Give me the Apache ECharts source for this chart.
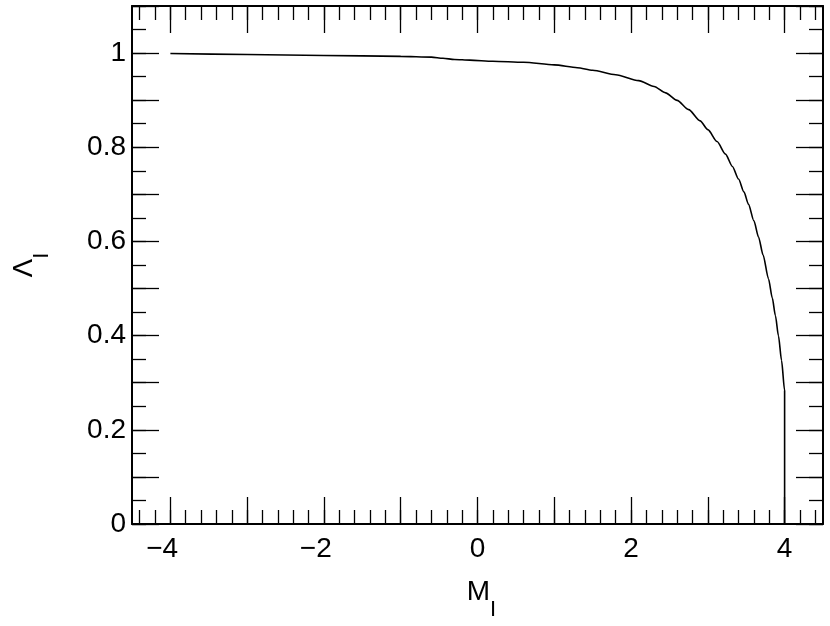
<!DOCTYPE html>
<html>
<head>
<meta charset="utf-8">
<script src="https://cdn.jsdelivr.net/npm/echarts@6/dist/echarts.min.js"></script>
<style>
  html, body { margin: 0; padding: 0; background: #fff; }
  #chart { width: 830px; height: 626px; }
</style>
</head>
<body>
<div id="chart"></div>
<script>
// curve M_I -> Lambda_I
const mValues = [-4.0, -3.0, -2.0, -1.0, -0.6, -0.45, -0.3, -0.1, 0.2, 0.6, 1.0, 1.3, 1.5, 1.8, 2.1, 2.3, 2.45, 2.6, 2.75, 2.9, 3.0, 3.12, 3.23, 3.32, 3.4, 3.47, 3.53, 3.6, 3.66, 3.72, 3.79, 3.84, 3.88, 3.92, 3.96, 4.0, 4.0];
const lambdaValues = [0.999, 0.997, 0.995, 0.993, 0.9915, 0.989, 0.9865, 0.985, 0.9827, 0.9805, 0.975, 0.969, 0.9635, 0.954, 0.9415, 0.929, 0.9155, 0.8995, 0.88, 0.856, 0.8375, 0.8123, 0.7854, 0.7593, 0.7325, 0.7052, 0.6788, 0.6438, 0.6096, 0.5712, 0.5208, 0.4798, 0.4426, 0.3994, 0.3474, 0.2834, 0];

// tick positions and labels
const xLabels = [-4, -2, 0, 2, 4];
const xMajor = [-4, -3, -2, -1, 0, 1, 2, 3, 4];
const yLabels = [0, 0.2, 0.4, 0.6, 0.8, 1];
const yMajor = [0, 0.1, 0.2, 0.3, 0.4, 0.5, 0.6, 0.7, 0.8, 0.9, 1.0, 1.1];

function steps(from, to, step) {
    const out = [];
    for (let v = from; v <= to + 1e-9; v += step) out.push(Math.round(v * 1000) / 1000);
    return out;
}
const xMinor = steps(-4.4, 4.4, 0.2);
const yMinor = steps(0, 1.1, 0.05);

const FONT = 'Liberation Sans';
const LONG = 27, SHORT = 14;

const chart = echarts.init(document.getElementById('chart'));

function tickAxis(position, values, len, withLine) {
    return {
        type: 'value', position: position,
        axisLine: { show: withLine, onZero: false, lineStyle: { color: '#000', width: 2 } },
        axisTick: { show: true, inside: true, length: len, customValues: values, lineStyle: { color: '#000', width: 1.3 } },
        axisLabel: { show: false },
        splitLine: { show: false }
    };
}

// main symbol + subscript, subscript sits lower by its taller line box
const nameRich = {
    m: { fontFamily: FONT, fontSize: 28, color: '#000', lineHeight: 30, verticalAlign: 'top' },
    s: { fontFamily: FONT, fontSize: 22, color: '#000', lineHeight: 43, verticalAlign: 'bottom' }
};

const xBase = { min: -4.5, max: 4.5 };
const yBase = { min: 0, max: 1.1 };

chart.setOption({
    animation: false,
    grid: { left: 132, top: 6, width: 691, height: 518, outerBoundsMode: 'none', containLabel: false },
    xAxis: [
        Object.assign({
            type: 'value', position: 'bottom',
            name: '{m|M}{s|I}', nameLocation: 'middle', nameGap: 54,
            nameTextStyle: { fontFamily: FONT, color: '#000', rich: nameRich, padding: [0, 0, 0, 8] },
            axisLine: { show: true, onZero: false, lineStyle: { color: '#000', width: 2 } },
            axisTick: { show: true, inside: true, length: LONG, customValues: xMajor, lineStyle: { color: '#000', width: 1.3 } },
            axisLabel: {
                customValues: xLabels, margin: 11,
                formatter: v => v < 0 ? `{t|\u2212${-v}}{g|\u2212}` : `{t|${v}}`,
                rich: {
                    t: { fontFamily: FONT, fontSize: 28, color: '#000' },
                    g: { fontFamily: FONT, fontSize: 28, color: 'rgba(0,0,0,0)' }
                }
            },
            splitLine: { show: false }
        }, xBase),
        Object.assign(tickAxis('bottom', xMinor, SHORT, false), xBase),
        Object.assign(tickAxis('top', xMajor, LONG, true), xBase),
        Object.assign(tickAxis('top', xMinor, SHORT, false), xBase)
    ],
    yAxis: [
        Object.assign({
            type: 'value', position: 'left',
            name: '{m|\u039B}{s|I}', nameLocation: 'middle', nameGap: 79, nameRotate: 90,
            nameTextStyle: { fontFamily: FONT, color: '#000', rich: nameRich },
            axisLine: { show: true, onZero: false, lineStyle: { color: '#000', width: 2 } },
            axisTick: { show: true, inside: true, length: LONG, customValues: yMajor, lineStyle: { color: '#000', width: 1.3 } },
            axisLabel: { customValues: yLabels, margin: 6, fontFamily: FONT, fontSize: 28, color: '#000' },
            splitLine: { show: false }
        }, yBase),
        Object.assign(tickAxis('left', yMinor, SHORT, false), yBase),
        Object.assign(tickAxis('right', yMajor, LONG, true), yBase),
        Object.assign(tickAxis('right', yMinor, SHORT, false), yBase)
    ],
    series: [{
        type: 'line',
        xAxisIndex: 0, yAxisIndex: 0,
        data: mValues.map((m, i) => [m, lambdaValues[i]]),
        showSymbol: false,
        smooth: 0.25,
        smoothMonotone: 'x',
        lineStyle: { color: '#000', width: 1.6 }
    }]
});
</script>
</body>
</html>
